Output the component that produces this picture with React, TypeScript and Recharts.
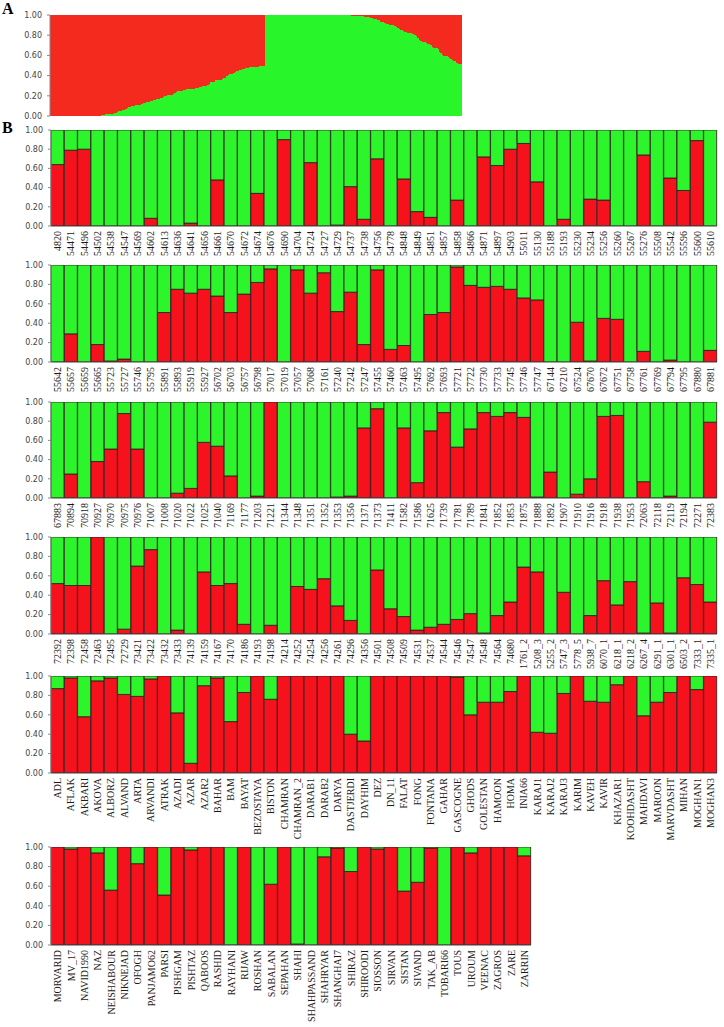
import React from 'react'
import { BarChart, Bar, XAxis, YAxis } from 'recharts'

// STRUCTURE-style membership plot (K=2): red = cluster 1, green = cluster 2
const RED = '#f5121d'
const GREEN = '#2cf52c'
const RED_A = '#f42a1f'
const GREEN_A = '#28f52a'
const OUTLINE = '#2a1717'

const yTicks = [0, 0.2, 0.4, 0.6, 0.8, 1]

const labels1 = ['4820', '54471', '54496', '54502', '54538', '54547', '54569', '54602', '54613', '54636', '54641', '54656', '54661', '54670', '54672', '54674', '54676', '54690', '54704', '54724', '54727', '54729', '54737', '54738', '54756', '54778', '54848', '54849', '54851', '54857', '54858', '54866', '54871', '54897', '54903', '55011', '55130', '55188', '55193', '55230', '55234', '55256', '55260', '55267', '55276', '55508', '55542', '55596', '55600', '55610']
const red1 = [0.64, 0.79, 0.8, 0, 0, 0, 0, 0.08, 0, 0, 0.03, 0, 0.48, 0, 0, 0.34, 0, 0.9, 0, 0.66, 0, 0.01, 0.41, 0.07, 0.7, 0, 0.49, 0.15, 0.09, 0, 0.27, 0, 0.72, 0.63, 0.8, 0.86, 0.46, 0, 0.07, 0, 0.28, 0.27, 0, 0, 0.74, 0, 0.5, 0.37, 0.89, 0]

const labels2 = ['55642', '55657', '55659', '55665', '55723', '55727', '55746', '55795', '55891', '55893', '55919', '55927', '56702', '56703', '56757', '56798', '57017', '57019', '57057', '57068', '57161', '57240', '57242', '57247', '57455', '57460', '57463', '57495', '57692', '57693', '57721', '57722', '57730', '57733', '57745', '57746', '57747', '67144', '67210', '67524', '67670', '67672', '67751', '67758', '67761', '67769', '67794', '67795', '67880', '67881']
const red2 = [0, 0.29, 0, 0.18, 0.01, 0.03, 0, 0, 0.51, 0.75, 0.71, 0.75, 0.68, 0.51, 0.7, 0.82, 0.96, 0, 0.95, 0.71, 0.92, 0.52, 0.72, 0.18, 0.95, 0.13, 0.17, 0, 0.49, 0.51, 0.98, 0.79, 0.77, 0.78, 0.75, 0.66, 0.64, 0, 0, 0.41, 0.01, 0.45, 0.44, 0, 0.11, 0, 0.02, 0, 0, 0.12]

const labels3 = ['67883', '70894', '70918', '70927', '70970', '70975', '70976', '71007', '71008', '71020', '71022', '71025', '71040', '71169', '71177', '71203', '71221', '71344', '71348', '71351', '71352', '71353', '71356', '71371', '71373', '71411', '71582', '71586', '71625', '71739', '71781', '71789', '71841', '71852', '71853', '71875', '71888', '71892', '71907', '71910', '71916', '71918', '71938', '71953', '72063', '72118', '72119', '72194', '72271', '72383']
const red3 = [0, 0.25, 0, 0.38, 0.51, 0.88, 0.51, 0, 0, 0.05, 0.1, 0.58, 0.54, 0.23, 0, 0.02, 1, 0, 0, 0, 0, 0.01, 0.02, 0.73, 0.93, 0, 0.73, 0.16, 0.7, 0.89, 0.53, 0.72, 0.89, 0.85, 0.89, 0.84, 0.01, 0.27, 0, 0.04, 0.2, 0.85, 0.86, 0, 0.17, 0, 0.02, 0, 0, 0.79]

const labels4 = ['72392', '72398', '72458', '72463', '72495', '72729', '73421', '73422', '73432', '73433', '74139', '74159', '74167', '74170', '74186', '74193', '74198', '74214', '74252', '74254', '74256', '74261', '74296', '74356', '74501', '74508', '74509', '74531', '74537', '74544', '74546', '74547', '74548', '74564', '74680', '1761_2', '5208_3', '5255_2', '5747_3', '5778_5', '5938_7', '6070_1', '6218_1', '6218_2', '6267_4', '6291_1', '6301_1', '6503_2', '7333_1', '7335_1']
const red4 = [0.52, 0.5, 0.5, 1, 0, 0.05, 0.7, 0.87, 0, 0.04, 0, 0.64, 0.5, 0.52, 0.1, 0, 0.09, 0, 0.49, 0.46, 0.57, 0.29, 0.14, 0, 0.66, 0.26, 0.18, 0.04, 0.07, 0.1, 0.15, 0.21, 0.01, 0.19, 0.33, 0.69, 0.64, 0, 0.43, 0, 0.19, 0.55, 0.3, 0.54, 0.01, 0.32, 0.01, 0.58, 0.51, 0.33]

const labels5 = ['ADL', 'AFLAK', 'AKBARI', 'AKOVA', 'ALBORZ', 'ALVAND', 'ARTA', 'ARVANDI', 'ATRAK', 'AZADI', 'AZAR', 'AZAR2', 'BAHAR', 'BAM', 'BAYAT', 'BEZOSTAYA', 'BISTON', 'CHAMRAN', 'CHAMRAN_2', 'DARAB1', 'DARAB2', 'DARYA', 'DASTJERDI', 'DAYHIM', 'DEZ', 'DN_11', 'FALAT', 'FONG', 'FONTANA', 'GAHAR', 'GASCOGNE', 'GHODS', 'GOLESTAN', 'HAMOON', 'HOMA', 'INIA66', 'KARAJ1', 'KARAJ2', 'KARAJ3', 'KARIM', 'KAVEH', 'KAVIR', 'KHAZAR1', 'KOOHDASHT', 'MAHDAVI', 'MAROON', 'MARVDASHT', 'MIHAN', 'MOGHAN1', 'MOGHAN3']
const red5 = [0.87, 0.98, 0.58, 0.95, 0.98, 0.81, 0.79, 0.97, 1, 0.62, 0.1, 0.9, 0.98, 0.53, 0.83, 1, 0.76, 1, 1, 1, 1, 1, 0.4, 0.33, 1, 1, 1, 1, 1, 1, 0.99, 0.6, 0.73, 0.73, 0.84, 1, 0.42, 0.41, 0.82, 1, 0.74, 0.73, 0.91, 1, 0.59, 0.73, 0.83, 1, 0.86, 1]

const labels6 = ['MORVARID', 'MV_17', 'NAVID1990', 'NAZ', 'NEISHABOUR', 'NIKNEJAD', 'OFOGH', 'PANJAMO62', 'PARSI', 'PISHGAM', 'PISHTAZ', 'QABOOS', 'RASHID', 'RAYHANI', 'RIJAW', 'ROSHAN', 'SABALAN', 'SEPAHAN', 'SHAHI', 'SHAHPASSAND', 'SHAHRYAR', 'SHANGHAI7', 'SHIRAZ', 'SHIROODI', 'SIOSSON', 'SIRVAN', 'SISTAN', 'SIVAND', 'TAK_AB', 'TOBARI66', 'TOUS', 'UROUM', 'VEENAC', 'ZAGROS', 'ZARE', 'ZARRIN']
const red6 = [1, 0.98, 1, 0.94, 0.56, 1, 0.83, 1, 0.51, 1, 0.97, 1, 1, 0, 1, 0, 0.62, 1, 0.01, 0, 0.9, 0.99, 0.75, 1, 0.98, 1, 0.55, 0.64, 0.99, 0, 1, 0.94, 1, 1, 1, 0.91]

const toRows = (labels: string[], red: number[]) =>
  labels.map((name, i) => ({ name, red: red[i], green: 1 - red[i] }))

const panels = [
  { labels: labels1, red: red1, top: 130, bottom: 226, right: 717, labelH: 40 },
  { labels: labels2, red: red2, top: 265, bottom: 362, right: 717, labelH: 40 },
  { labels: labels3, red: red3, top: 402, bottom: 498, right: 717, labelH: 40 },
  { labels: labels4, red: red4, top: 537, bottom: 634, right: 717, labelH: 40 },
  { labels: labels5, red: red5, top: 676, bottom: 773, right: 717, labelH: 75 },
  { labels: labels6, red: red6, top: 847, bottom: 945, right: 531, labelH: 80 },
]

// panel A: the same individuals, grouped by majority cluster and sorted
const allRed = [...red1, ...red2, ...red3, ...red4, ...red5, ...red6]
const sortedA = [
  ...allRed.filter(v => v >= 0.5).sort((a, b) => b - a),
  ...allRed.filter(v => v < 0.5).sort((a, b) => a - b),
].map((red, i) => ({ id: i, red, green: 1 - red }))

// thin bars in panel A: widen a touch so neighbours overlap and no seams show
const SolidBar = ({ x, y, width, height, fill }: any) =>
  height > 0 ? (
    <rect x={x} y={y} width={width + 0.9} height={height} fill={fill} shapeRendering="crispEdges" />
  ) : null

const XTick = ({ x, y, payload }: any) => (
  <text
    transform={`translate(${x},${y}) rotate(-90)`}
    textAnchor="end"
    dominantBaseline="central"
    fontSize={10}
    fontFamily="'Liberation Serif', serif"
    fill="#1a1a1a"
  >
    {payload.value}
  </text>
)

const yAxisProps = {
  domain: [0, 1] as [number, number],
  allowDataOverflow: true,
  ticks: yTicks,
  interval: 0 as const,
  tickFormatter: (v: number) => v.toFixed(2),
  width: 51,
  tickSize: 3,
  tickMargin: 5,
  tick: { fontSize: 8, fill: '#444', fontFamily: 'DejaVu Sans' },
  axisLine: { stroke: '#888' },
  tickLine: { stroke: '#888' },
}

const panelLabel = (text: string, top: number) => (
  <div style={{ position: 'absolute', left: 2, top, fontFamily: "'Liberation Serif', serif", fontWeight: 'bold', fontSize: 16, lineHeight: '16px' }}>
    {text}
  </div>
)

export default function App() {
  return (
    <div style={{ position: 'absolute', left: 0, top: 0, width: 724, height: 1027, background: '#fff' }}>
      {panelLabel('A', 1)}
      {panelLabel('B', 120)}

      <div style={{ position: 'absolute', left: 0, top: 0 }}>
        <BarChart width={470} height={125} data={sortedA} margin={{ top: 15, right: 8, bottom: 9, left: 0 }} barCategoryGap={0} barGap={0}>
          <XAxis dataKey="id" hide />
          <YAxis {...yAxisProps} width={50} />
          <Bar dataKey="green" stackId="q" fill={GREEN_A} shape={<SolidBar />} isAnimationActive={false} />
          <Bar dataKey="red" stackId="q" fill={RED_A} shape={<SolidBar />} isAnimationActive={false} />
        </BarChart>
      </div>

      {panels.map((p, i) => (
        <div key={i} style={{ position: 'absolute', left: 0, top: p.top - 6 }}>
          <BarChart
            width={p.right + 7}
            height={6 + (p.bottom - p.top) + p.labelH}
            data={toRows(p.labels, p.red)}
            margin={{ top: 6, right: 7, bottom: 0, left: 0 }}
            barCategoryGap={0}
            barGap={0}
          >
            <XAxis dataKey="name" interval={0} tick={<XTick />} tickLine={false} tickSize={3} tickMargin={2} height={p.labelH} axisLine={{ stroke: '#444' }} />
            <YAxis {...yAxisProps} />
            <Bar dataKey="red" stackId="q" fill={RED} stroke={OUTLINE} strokeWidth={0.8} isAnimationActive={false} />
            <Bar dataKey="green" stackId="q" fill={GREEN} stroke={OUTLINE} strokeWidth={0.8} isAnimationActive={false} />
          </BarChart>
        </div>
      ))}
    </div>
  )
}
